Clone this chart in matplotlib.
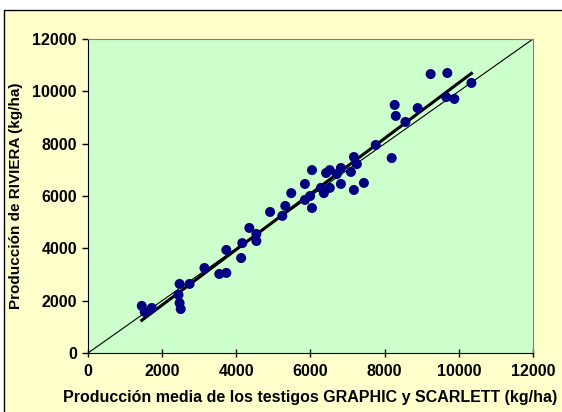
import numpy as np
import matplotlib
matplotlib.use("Agg")
import matplotlib.pyplot as plt
from matplotlib.patches import Rectangle

# valores (kg/ha)
testigos = [1450, 1720, 1530, 2470, 2740, 2440, 2470, 2500, 3140, 3540,
            3730, 3730, 4130, 4160, 4350, 4540, 4540, 4910, 5240, 5320,
            5480, 5850, 5850, 5990, 6040, 6040, 6280, 6360, 6520, 6420,
            6520, 6820, 6710, 7090, 6820, 7170, 7250, 7170, 7440, 7760,
            8190, 8270, 8300, 8560, 8890, 9660, 9880, 10340, 9240, 9690]
riviera = [1800, 1720, 1570, 2640, 2640, 2220, 1910, 1680, 3250, 3020,
           3060, 3940, 3630, 4200, 4780, 4550, 4280, 5390, 5240, 5620,
           6110, 6460, 5850, 6000, 6990, 5540, 6310, 6110, 6310, 6880,
           6990, 7070, 6840, 6920, 6460, 7490, 7220, 6230, 6500, 7950,
           7450, 9480, 9060, 8830, 9360, 9780, 9710, 10320, 10660, 10700]

ticks = [0, 2000, 4000, 6000, 8000, 10000, 12000]

plt.rcParams["font.family"] = ["Liberation Sans", "DejaVu Sans"]
plt.rcParams["font.weight"] = "bold"

fig = plt.figure(figsize=(5.62, 4.12), dpi=100)
fig.patches.append(Rectangle((4 / 562, -0.05), 1.1, 1 - 10 / 412 + 0.05,
                             transform=fig.transFigure, facecolor="#FFFFCC",
                             edgecolor="black", linewidth=1, zorder=-10))

ax = fig.add_axes([88 / 562, 1 - 353 / 412, 445 / 562, 314 / 412])
ax.set_facecolor("#CCFFCC")

x = np.array(testigos)
y = np.array(riviera)

# línea 1:1
ax.plot([0, 12000], [0, 12000], color="black", linewidth=0.8, zorder=2)

# recta de regresión
m, b = np.polyfit(x, y, 1)
xr = np.array([x.min(), x.max()])
ax.plot(xr, m * xr + b, color="black", linewidth=2.2, zorder=3)

ax.scatter(x, y, s=52, color="#000080", edgecolors="none", zorder=4)

ax.set_xlim(0, 12000)
ax.set_ylim(0, 12000)
ax.set_xticks(ticks)
ax.set_yticks(ticks)
ax.tick_params(axis="x", direction="inout", length=6, width=1, labelsize=11.5, pad=5)
ax.tick_params(axis="y", direction="out", length=4, width=1, labelsize=11.5, pad=4)
for lbl in ax.get_xticklabels() + ax.get_yticklabels():
    lbl.set_fontweight("bold")

for s in ["top", "right"]:
    ax.spines[s].set_color("#808080")
for s in ["bottom", "left"]:
    ax.spines[s].set_color("black")

ax.set_xlabel("Producción media de los testigos GRAPHIC y SCARLETT (kg/ha)",
              fontsize=11.5, fontweight="bold", labelpad=8)
ax.set_ylabel("Producción de RIVIERA (kg/ha)", fontsize=11,
              fontweight="bold", labelpad=7)

fig.savefig("out.png", dpi=100)
